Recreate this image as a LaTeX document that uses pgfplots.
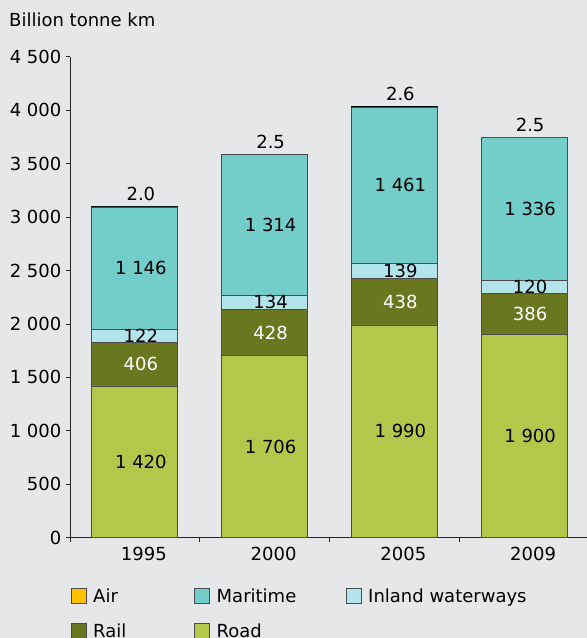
\documentclass[border=0pt]{standalone}
\usepackage{pgfplots}
\pgfplotsset{compat=1.18}
\usepackage{fontspec}
\setmainfont{DejaVu Sans}
\definecolor{bg}{RGB}{230,231,233}
\definecolor{roadc}{RGB}{179,200,74}
\definecolor{railc}{RGB}{107,119,32}
\definecolor{inlandc}{RGB}{178,228,234}
\definecolor{maric}{RGB}{115,205,200}
\definecolor{airc}{RGB}{255,192,0}
\newcommand{\fs}{\fontsize{18bp}{21bp}\selectfont}
\begin{document}
\begin{tikzpicture}[x=1bp,y=1bp]
\fill[bg] (0,0) rectangle (587,638);
\useasboundingbox (0,0) rectangle (587,638);
\node[anchor=base west, inner sep=0pt, font=\fs] at (9,611) {Billion tonne km};
\begin{axis}[
  at={(70bp,100.3bp)}, anchor=south west,
  scale only axis, width=519bp, height=481bp,
  xmin=-0.5, xmax=3.5, ymin=0, ymax=4500,
  axis lines=left, axis line style={-, draw=black!85, line width=0.8bp},
  ybar stacked, bar width=86bp,
  ytick={0,500,...,4500},
  xtick={-0.5,0.5,1.5,2.5,3.5}, xticklabels={},
  extra x ticks={0,1,2,3}, extra x tick labels={1995,2000,2005,2009},
  extra x tick style={major tick length=0pt, xticklabel style={xshift=9bp, yshift=-6bp}},
  tick align=outside, major tick length=4.5bp,
  tick style={draw=black!85, line width=0.8bp},
  tick label style={font=\fs},
  yticklabel style={inner sep=4bp},
  /pgf/number format/.cd, 1000 sep={\ }, assume math mode=true, /pgfplots/.cd,
  seg/.style={nodes near coords, point meta=explicit symbolic,
    every node near coord/.append style={font=\fs, xshift=6bp}},
  every axis plot/.append style={draw=black!70, line width=0.8bp},
  legend cell align=left,
  legend columns=3,
  legend image code/.code={\draw[#1] (0bp,-6.7bp) rectangle (15bp,8.3bp);},
  legend style={draw=none, fill=none, inner sep=0pt, outer sep=0pt,
    at={(0.00135,-0.1046)}, anchor=north west, font=\fs, row sep=17bp,
    nodes={inner sep=0pt, text height=14bp, text depth=4bp},
    /tikz/every odd column/.append style={column sep=6.7bp}},
]
\addlegendimage{fill=airc, draw=black!70, line width=0.8bp}
\addlegendentry{\makebox[101bp][l]{Air}}
\addlegendimage{fill=maric, draw=black!70, line width=0.8bp}
\addlegendentry{\makebox[129bp][l]{Maritime}}
\addlegendimage{fill=inlandc, draw=black!70, line width=0.8bp}
\addlegendentry{Inland waterways}
\addlegendimage{fill=railc, draw=black!70, line width=0.8bp}
\addlegendentry{\makebox[101bp][l]{Rail}}
\addlegendimage{fill=roadc, draw=black!70, line width=0.8bp}
\addlegendentry{\makebox[129bp][l]{Road}}

\addplot[fill=roadc, seg] coordinates {(0,1420) [1 420] (1,1706) [1 706] (2,1990) [1 990] (3,1900) [1 900]};
\addplot[fill=railc, seg, every node near coord/.append style={text=white}] coordinates {(0,406) [406] (1,428) [428] (2,438) [438] (3,386) [386]};
\addplot[fill=inlandc, seg] coordinates {(0,122) [122] (1,134) [134] (2,139) [139] (3,120) [120]};
\addplot[fill=maric, seg] coordinates {(0,1146) [1 146] (1,1314) [1 314] (2,1461) [1 461] (3,1336) [1 336]};
\addplot[fill=airc, draw=black, line width=1.2bp, nodes near coords, point meta=explicit symbolic,
  every node near coord/.append style={font=\fs, xshift=6bp, yshift=13bp}] coordinates {(0,2.0) [2.0] (1,2.5) [2.5] (2,2.6) [2.6] (3,2.5) [2.5]};
\end{axis}
\end{tikzpicture}
\end{document}
